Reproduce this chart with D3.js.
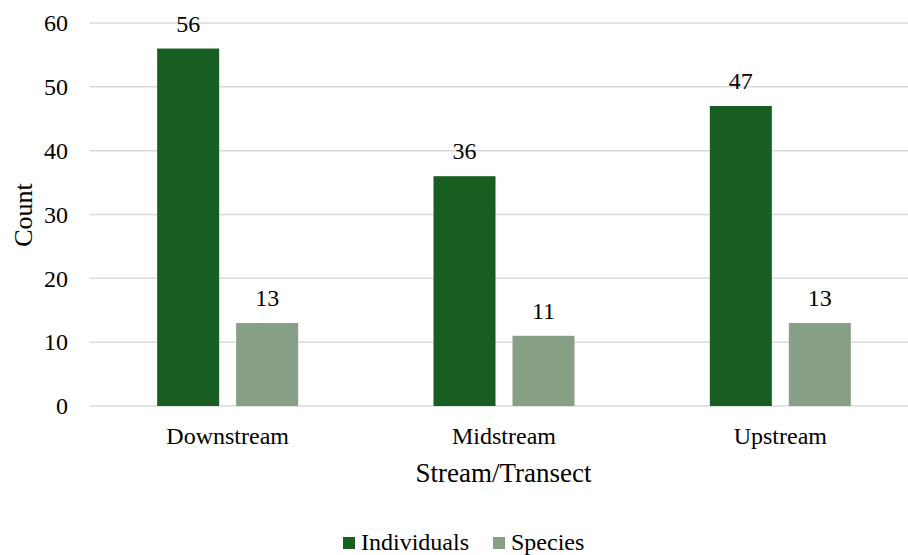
<!DOCTYPE html>
<html>
<head>
<meta charset="utf-8">
<script src="https://cdn.jsdelivr.net/npm/d3@7/dist/d3.min.js"></script>
<style>
  html, body { margin: 0; padding: 0; background: #fff; }
</style>
</head>
<body>
<svg id="chart" width="908" height="555"></svg>
<script>
// Fish counts per stream transect
const categories = ["Downstream", "Midstream", "Upstream"];
const seriesNames = ["Individuals", "Species"];
const individuals = [56, 36, 47];
const species = [13, 11, 13];
const yTicks = [0, 10, 20, 30, 40, 50, 60];
const seriesColors = ["#195e21", "#879e87"];

const FONT = "'Liberation Serif', 'Times New Roman', Times, serif";
const seriesValues = [individuals, species];
const svg = d3.select("#chart");

const plot = { left: 89.5, right: 918.5, top: 23, bottom: 406 };

const x0 = d3.scaleBand().domain(categories).range([plot.left, plot.right]).padding(0);
const x1 = d3.scaleBand().domain(seriesNames).range([-70.5, 70.5]).paddingInner(0.2152).paddingOuter(0);
const y = d3.scaleLinear().domain([0, 60]).range([plot.bottom, plot.top]);

// Horizontal gridlines
svg.append("g")
  .selectAll("line")
  .data(yTicks)
  .join("line")
  .attr("x1", plot.left)
  .attr("x2", 908)
  .attr("y1", d => y(d))
  .attr("y2", d => y(d))
  .attr("stroke", "#d9d9d9")
  .attr("stroke-width", 1.5);

// Y axis tick labels
const yAxis = d3.axisLeft(y).tickValues(yTicks).tickSize(0).tickPadding(0);
const yg = svg.append("g").attr("transform", `translate(68,0)`).call(yAxis);
yg.attr("font-family", null).attr("font-size", null);
yg.select(".domain").remove();
yg.selectAll("text")
  .style("font-family", FONT)
  .style("font-size", "24px")
  .attr("fill", "#000");

// Bars
const rows = categories.map((c, i) => ({ cat: c, vals: seriesNames.map((s, j) => ({ s, j, v: seriesValues[j][i] })) }));
const groups = svg.append("g")
  .selectAll("g")
  .data(rows)
  .join("g")
  .attr("transform", d => `translate(${x0(d.cat) + x0.bandwidth() / 2},0)`);

groups.selectAll("rect")
  .data(d => d.vals)
  .join("rect")
  .attr("x", d => x1(d.s))
  .attr("width", x1.bandwidth())
  .attr("y", d => y(d.v))
  .attr("height", d => y(0) - y(d.v))
  .attr("fill", d => seriesColors[d.j]);

// Value labels
groups.selectAll("text.val")
  .data(d => d.vals)
  .join("text")
  .attr("class", "val")
  .attr("x", d => x1(d.s) + x1.bandwidth() / 2)
  .attr("y", d => y(d.v) - 17)
  .attr("text-anchor", "middle")
  .style("font-family", FONT)
  .style("font-size", "24px")
  .attr("fill", "#000")
  .text(d => d.v);

// X axis category labels
const xAxis = d3.axisBottom(x0).tickSize(0).tickPadding(0);
const xg = svg.append("g").attr("transform", `translate(0,${plot.bottom})`).call(xAxis);
xg.attr("font-family", null).attr("font-size", null);
xg.select(".domain").remove();
xg.selectAll("text")
  .attr("dy", null)
  .attr("y", 38)
  .style("font-family", FONT)
  .style("font-size", "24px")
  .attr("fill", "#000");

// Axis titles
svg.append("text")
  .attr("x", 503.5)
  .attr("y", 482)
  .attr("text-anchor", "middle")
  .style("font-family", FONT)
  .style("font-size", "27px")
  .attr("fill", "#000")
  .text("Stream/Transect");

svg.append("text")
  .attr("transform", "translate(32,215) rotate(-90)")
  .attr("text-anchor", "middle")
  .style("font-family", FONT)
  .style("font-size", "26px")
  .attr("fill", "#000")
  .text("Count");

// Legend
const legendItems = [
  { name: seriesNames[0], color: seriesColors[0], x: 343 },
  { name: seriesNames[1], color: seriesColors[1], x: 493 }
];
const lg = svg.append("g").selectAll("g").data(legendItems).join("g")
  .attr("transform", d => `translate(${d.x},537)`);
lg.append("rect").attr("width", 12).attr("height", 12).attr("fill", d => d.color);
lg.append("text")
  .attr("x", 18)
  .attr("y", 13)
  .style("font-family", FONT)
  .style("font-size", "24px")
  .attr("fill", "#000")
  .text(d => d.name);
</script>
</body>
</html>
